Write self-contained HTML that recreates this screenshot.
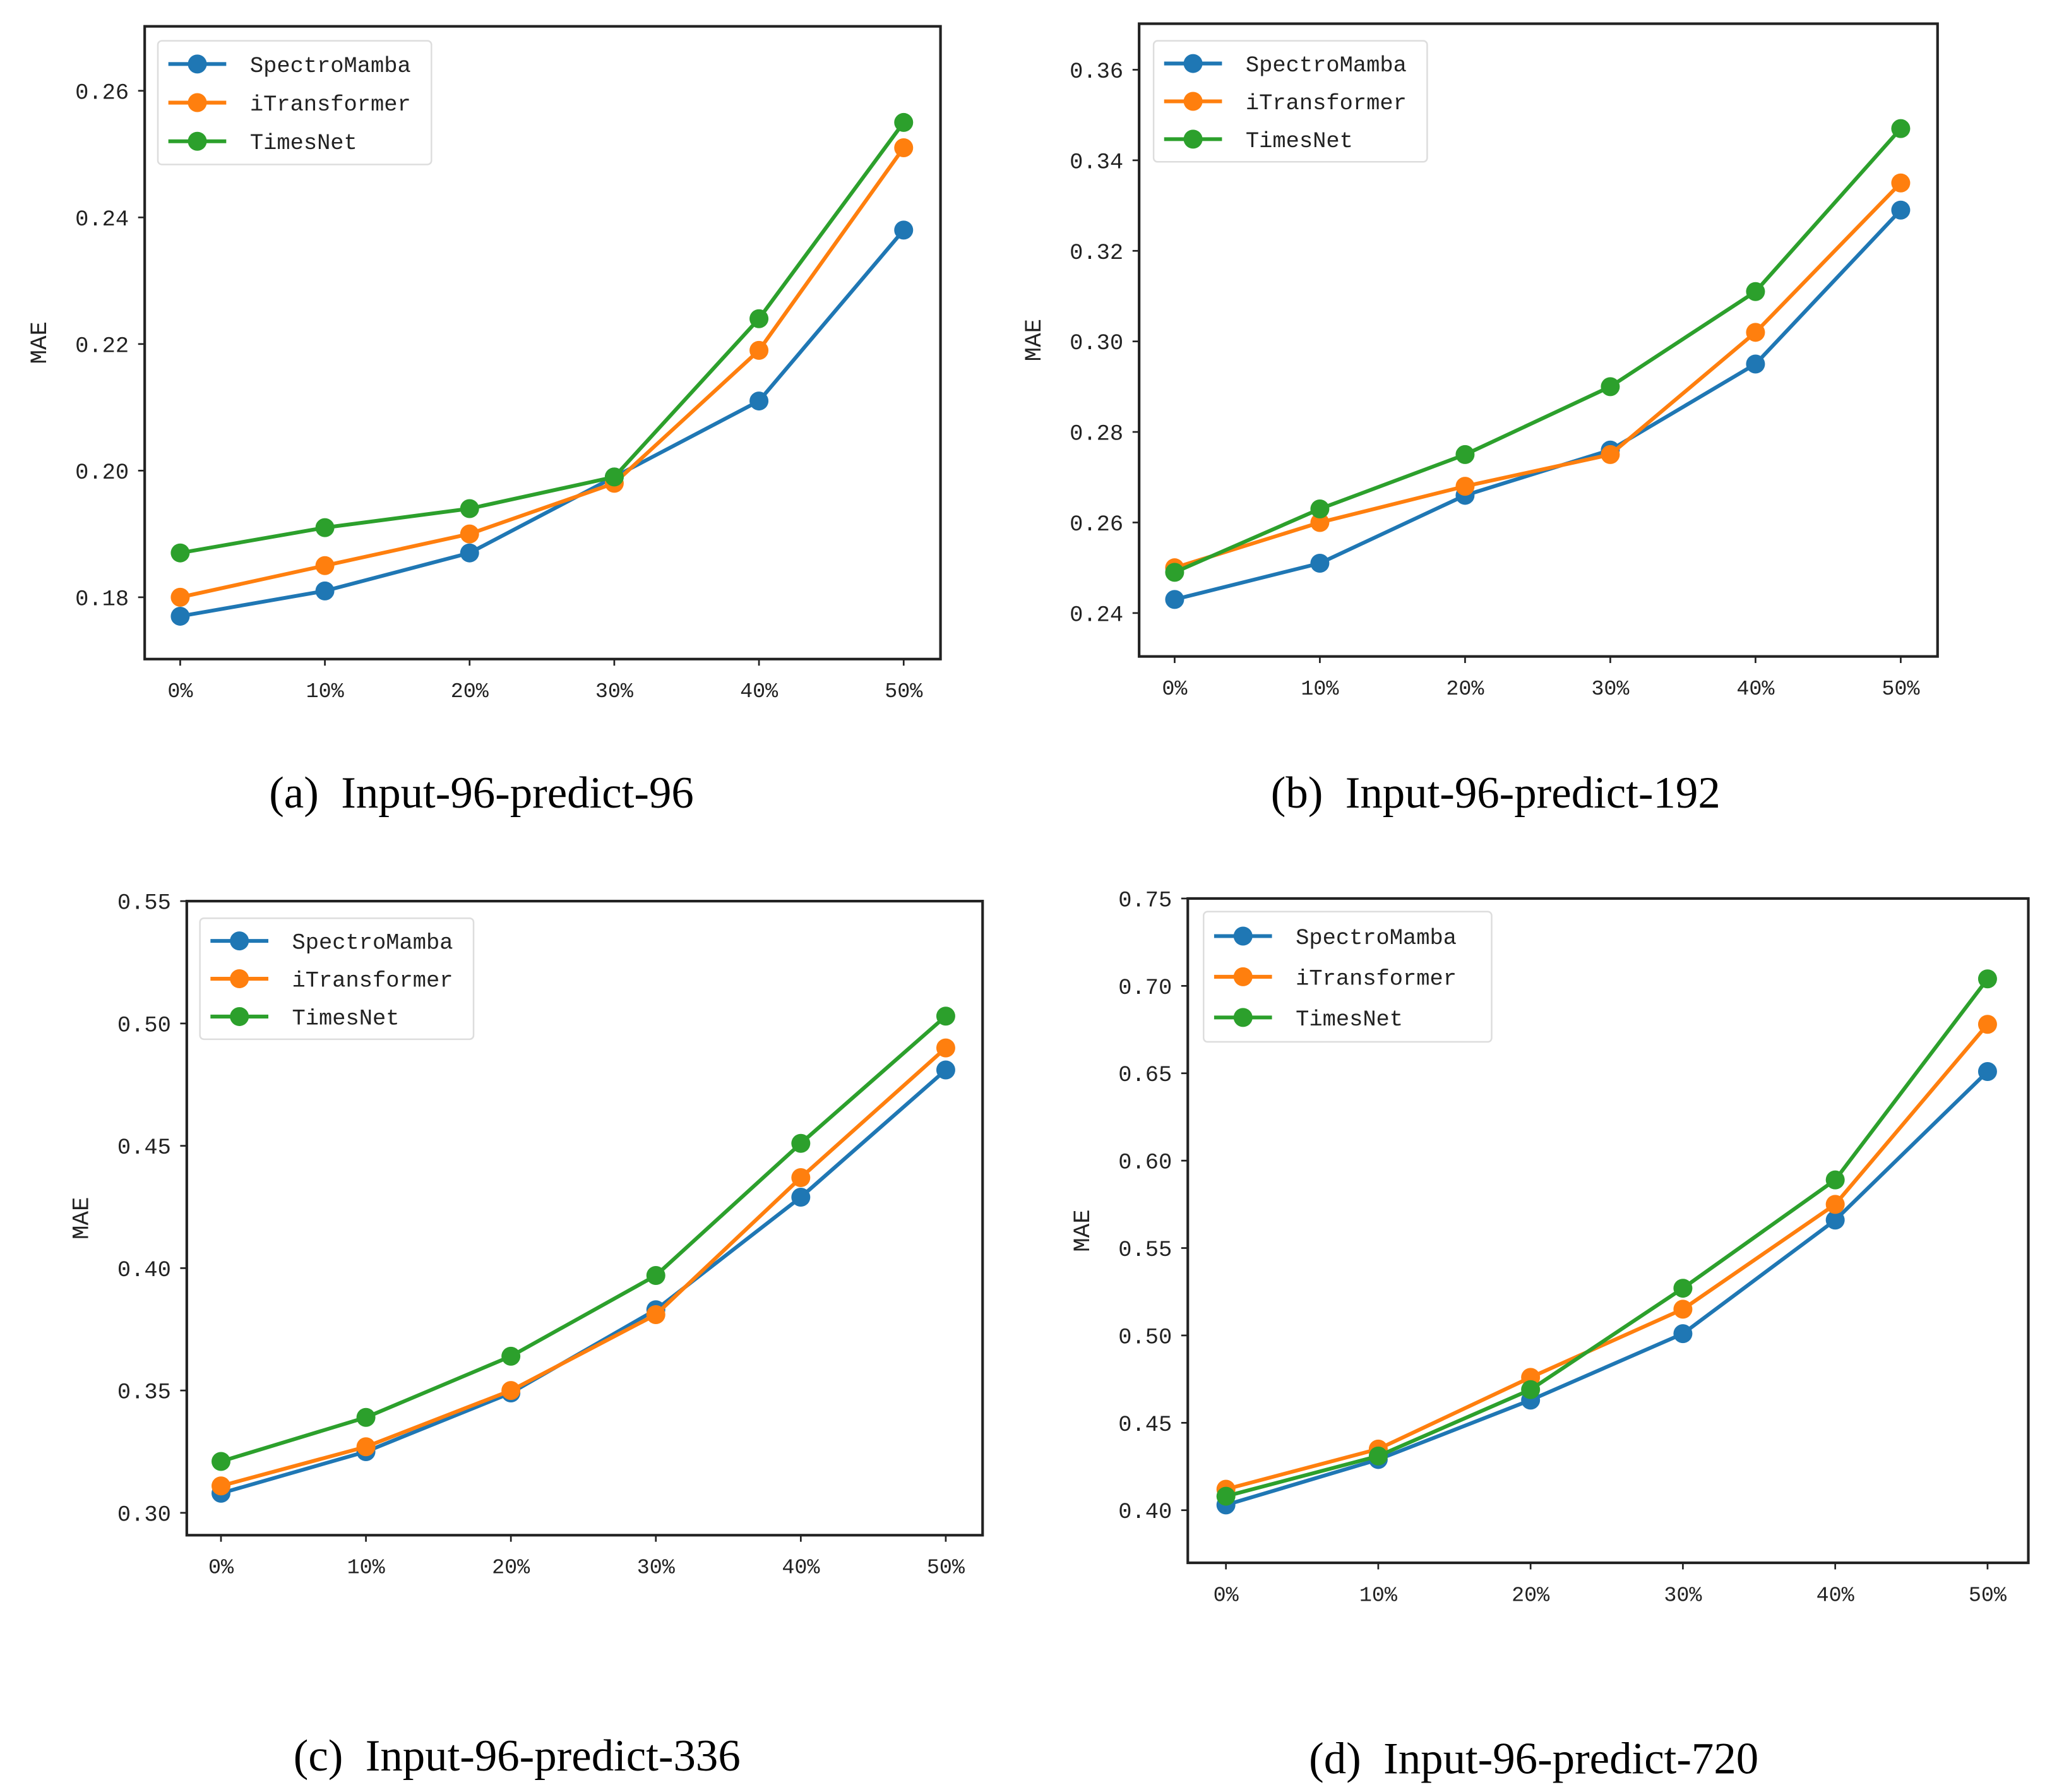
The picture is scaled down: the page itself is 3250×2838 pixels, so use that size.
<!DOCTYPE html>
<html><head><meta charset="utf-8"><style>
html,body{margin:0;padding:0;background:#fff;}
svg{display:block;}
text{font-family:"Liberation Mono","Noto Serif CJK SC",monospace;fill:#222;}
.cap{font-family:"Liberation Serif",serif;font-size:34px;fill:#000;}
</style></head><body>
<svg id="fig" width="3250" height="2838" viewBox="0 0 1560 1362.2" xmlns="http://www.w3.org/2000/svg"></svg>
<script>
const categories = ["0%","10%","20%","30%","40%","50%"];
const seriesNames = ["SpectroMamba","iTransformer","TimesNet"];
const colors = ["#1f77b4","#ff7f0e","#2ca02c"];
const aSpectro = [0.177,0.181,0.187,0.199,0.211,0.238];
const aITrans  = [0.180,0.185,0.190,0.198,0.219,0.251];
const aTimes   = [0.187,0.191,0.194,0.199,0.224,0.255];
const bSpectro = [0.243,0.251,0.266,0.276,0.295,0.329];
const bITrans  = [0.250,0.260,0.268,0.275,0.302,0.335];
const bTimes   = [0.249,0.263,0.275,0.290,0.311,0.347];
const cSpectro = [0.308,0.325,0.349,0.383,0.429,0.481];
const cITrans  = [0.311,0.327,0.350,0.381,0.437,0.490];
const cTimes   = [0.321,0.339,0.364,0.397,0.451,0.503];
const dSpectro = [0.403,0.429,0.463,0.501,0.566,0.651];
const dITrans  = [0.412,0.435,0.476,0.515,0.575,0.678];
const dTimes   = [0.408,0.431,0.469,0.527,0.589,0.704];
const aTicks = [0.18,0.20,0.22,0.24,0.26];
const bTicks = [0.24,0.26,0.28,0.30,0.32,0.34,0.36];
const cTicks = [0.30,0.35,0.40,0.45,0.50,0.55];
const dTicks = [0.40,0.45,0.50,0.55,0.60,0.65,0.70,0.75];
const captions = ["(a)\u00a0\u00a0Input-96-predict-96","(b)\u00a0\u00a0Input-96-predict-192","(c)\u00a0\u00a0Input-96-predict-336","(d)\u00a0\u00a0Input-96-predict-720"];

const NS="http://www.w3.org/2000/svg";
const svg=document.getElementById('fig');
function mk(tag,attrs,parent){const e=document.createElementNS(NS,tag);for(const k in attrs)e.setAttribute(k,attrs[k]);(parent||svg).appendChild(e);return e;}

const panels=[
 {id:'a',box:[110,20,715,501],y0:[0.18,454],y1:[0.26,69],x0:137,x1:687,ticks:aTicks,data:[aSpectro,aITrans,aTimes],leg:[120,31,208,94],cap:[366,603]},
 {id:'b',box:[866,18,1473,499],y0:[0.24,466],y1:[0.36,53],x0:893,x1:1445,ticks:bTicks,data:[bSpectro,bITrans,bTimes],leg:[877,31,208,92],cap:[1137,603]},
 {id:'c',box:[142,685,747,1167],y0:[0.30,1150],y1:[0.55,685],x0:168,x1:719,ticks:cTicks,data:[cSpectro,cITrans,cTimes],leg:[152,698,208,92],cap:[393,1335]},
 {id:'d',box:[903,683,1542,1188],y0:[0.40,1148],y1:[0.75,683],x0:932,x1:1511,ticks:dTicks,data:[dSpectro,dITrans,dTimes],leg:[915,693,219,99],cap:[1166,1337]}
];

panels.forEach((p,pi)=>{
 const g=mk('g',{});
 
 
 const yS=v=>p.y0[1]+(v-p.y0[0])*(p.y1[1]-p.y0[1])/(p.y1[0]-p.y0[0]);
 const xS=i=>p.x0+i*(p.x1-p.x0)/(categories.length-1);
 const [L,T,R,B]=p.box;
 p.ticks.forEach(t=>{
  const y=yS(t);
  const tl=mk('line',{x1:L-5,x2:L,y1:y,y2:y,stroke:'#222','stroke-width':1.3},g);
  
  
  const tx=mk('text',{x:L-12,y:y+6,'text-anchor':'end','font-size':17},g);
  
  
  tx.textContent=t.toFixed(2);
 });
 categories.forEach((c,i)=>{
  const x=xS(i);
  const tl=mk('line',{x1:x,x2:x,y1:B,y2:B+5,stroke:'#222','stroke-width':1.3},g);
  
  
  const tx=mk('text',{x:x,y:B+29,'text-anchor':'middle','font-size':16},g);
  
  
  tx.textContent=c;
 });
 const yl=mk('text',{x:0,y:0,'text-anchor':'middle','font-size':18,transform:`translate(${L-75},${(T+B)/2}) rotate(-90)`},g);
 
 
 yl.textContent='MAE';
 p.data.forEach((arr,si)=>{
  const pts=arr.map((v,i)=>xS(i)+','+yS(v)).join(' ');
  const pl=mk('polyline',{points:pts,fill:'none',stroke:colors[si],'stroke-width':2.9},g);
  
  
  arr.forEach((v,i)=>{
   const c=mk('circle',{cx:xS(i),cy:yS(v),r:7.2,fill:colors[si]},g);
   
   
  });
 });
 const fr=mk('rect',{x:L,y:T,width:R-L,height:B-T,fill:'none',stroke:'#222','stroke-width':2},g);
 
 
 const [lx,ly,lw,lh]=p.leg;
 const lg=mk('g',{},g);
 
 
 mk('rect',{x:lx,y:ly,width:lw,height:lh,rx:3,fill:'#fff',stroke:'#ddd','stroke-width':1.2},lg);
 const step=lh/3.2;
 seriesNames.forEach((n,si)=>{
  const y=ly+step*0.55+si*step+step*0.05;
  const e=mk('g',{},lg);
  
  
  mk('line',{x1:lx+8,x2:lx+52,y1:y,y2:y,stroke:colors[si],'stroke-width':2.9},e);
  mk('circle',{cx:lx+30,cy:y,r:7.2,fill:colors[si]},e);
  const t=mk('text',{x:lx+70,y:y+6,'font-size':17},e);
  t.textContent=n;
 });
 const cp=mk('text',{x:p.cap[0],y:p.cap[1]+11,'text-anchor':'middle',class:'cap'},g);
 
 
 cp.textContent=captions[pi];
});
</script>
</body></html>
